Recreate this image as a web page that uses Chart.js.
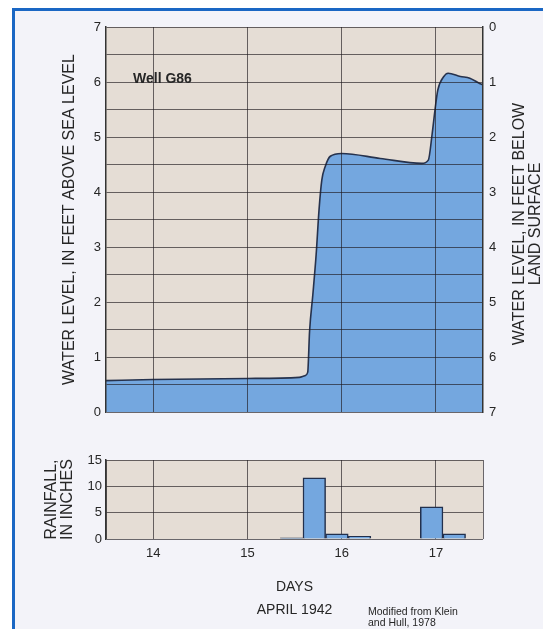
<!DOCTYPE html>
<html>
<head>
<meta charset="utf-8">
<script src="https://cdn.jsdelivr.net/npm/chart.js@4.4.1/dist/chart.umd.min.js"></script>
<style>
  html, body { margin: 0; padding: 0; background: #fff; }
  body { width: 543px; height: 629px; position: relative; overflow: hidden;
         font-family: 'Liberation Sans', Arial, sans-serif; color: #262626; }
  #frame { position: absolute; left: 12px; top: 8px; right: 0; bottom: 0;
           border-left: 3px solid #1a67c4; border-top: 3px solid #1a67c4; background: #f3f3f9; }
  #levelChart { position: absolute; left: 0; top: 0; }
  #rainChart { position: absolute; left: 0; top: 430px; }
  .txt { position: absolute; white-space: nowrap; }
  #well { left: 133px; top: 70px; font-size: 14px; font-weight: bold; }
  #rightTitle { left: 377px; top: 208px; width: 300px; height: 32px; font-size: 16px; line-height: 16px;
                text-align: center; transform: rotate(-90deg); }
  #credit { left: 368px; top: 606px; font-size: 10.5px; line-height: 11px; }
</style>
</head>
<body>
<div id="frame"></div>
<canvas id="levelChart" width="543" height="430"></canvas>
<canvas id="rainChart" width="543" height="199"></canvas>
<div class="txt" id="well">Well G86</div>
<div class="txt" id="rightTitle">WATER LEVEL, IN FEET BELOW<br>LAND SURFACE</div>
<div class="txt" id="credit">Modified from Klein<br>and Hull, 1978</div>
<script>
// water level, feet above sea level, by day of April 1942
const waterDays = [13.5, 14.0, 15.0, 15.55, 15.61, 15.64, 15.66, 15.695, 15.73, 15.76, 15.79, 15.825, 15.88, 16.0,
                   16.41, 16.85, 16.92, 16.96, 16.99, 17.02, 17.08, 17.13, 17.26, 17.36, 17.47, 17.5];
const waterLevel = [0.57, 0.59, 0.61, 0.63, 0.66, 0.72, 1.47, 2.14, 2.87, 3.67, 4.22, 4.46, 4.65, 4.70,
                    4.61, 4.52, 4.58, 5.05, 5.48, 5.85, 6.09, 6.16, 6.10, 6.07, 5.97, 5.95];

// rainfall bars (center of each 6-hour bin)
const rainDays = [15.47, 15.71, 15.95, 16.19, 16.955, 17.195];
const rainInches = [0.2, 11.6, 1.0, 0.5, 6.1, 1.0];

const dayTicks = [14, 15, 16, 17];
const levelTitle = 'WATER LEVEL, IN FEET ABOVE SEA LEVEL';
const rainTitle = ['RAINFALL,', 'IN INCHES'];
const dayTitle = ['DAYS', 'APRIL 1942'];

const beige = '#e5ddd5';
const gridCol = 'rgba(30,26,30,0.65)';
const frameCol = '#333';
const textCol = '#262626';
const tickFont = { family: "'Liberation Sans', Arial, sans-serif", size: 13 };
const titleFont = { family: "'Liberation Sans', Arial, sans-serif", size: 16 };

const plotBg = {
  id: 'plotBg',
  beforeDraw(chart) {
    const { ctx, chartArea: a } = chart;
    ctx.save();
    ctx.fillStyle = beige;
    ctx.fillRect(a.left, a.top, a.right - a.left, a.bottom - a.top);
    ctx.restore();
  }
};

const intLabel = v => Number.isInteger(v) ? v : '';

new Chart(document.getElementById('levelChart'), {
  type: 'line',
  data: {
    datasets: [{
      data: waterDays.map((d, i) => ({ x: d, y: waterLevel[i] })),
      borderColor: '#26324d',
      borderWidth: 1.6,
      backgroundColor: '#74a7df',
      fill: 'origin',
      pointRadius: 0,
      cubicInterpolationMode: 'monotone'
    }]
  },
  options: {
    responsive: false,
    animation: false,
    devicePixelRatio: 1,
    layout: { padding: { top: 27, bottom: 18, left: 0, right: 0 } },
    plugins: { legend: { display: false }, tooltip: { enabled: false } },
    scales: {
      x: {
        type: 'linear', min: 13.5, max: 17.5,
        afterBuildTicks: s => { s.ticks = dayTicks.map(v => ({ value: v })); },
        afterFit: s => { s.height = 0; },
        ticks: { display: false },
        grid: { color: gridCol, drawTicks: false, z: 1 },
        border: { display: false }
      },
      y: {
        min: 0, max: 7,
        afterFit: s => { s.width = 106; },
        ticks: { stepSize: 0.5, callback: intLabel, font: tickFont, color: textCol, padding: 5 },
        grid: { color: gridCol, drawTicks: false, z: 1 },
        border: { color: frameCol, width: 1.5, z: 2 },
        title: { display: true, text: levelTitle, font: titleFont, color: textCol, padding: { top: 60, bottom: 0 } }
      },
      y2: {
        position: 'right', min: 0, max: 7, reverse: true,
        afterFit: s => { s.width = 60; },
        ticks: { stepSize: 1, font: tickFont, color: textCol, padding: 6 },
        grid: { drawOnChartArea: false, drawTicks: false },
        border: { color: frameCol, width: 1.5, z: 2 }
      }
    }
  },
  plugins: [plotBg]
});

new Chart(document.getElementById('rainChart'), {
  type: 'bar',
  data: {
    datasets: [{
      data: rainDays.map((d, i) => ({ x: d, y: rainInches[i] })),
      backgroundColor: '#74a7df',
      borderColor: '#22304d',
      borderWidth: 1.5,
      barPercentage: 1,
      categoryPercentage: 1
    }]
  },
  options: {
    responsive: false,
    animation: false,
    devicePixelRatio: 1,
    layout: { padding: { top: 30, bottom: 0, left: 0, right: 60 } },
    plugins: { legend: { display: false }, tooltip: { enabled: false } },
    scales: {
      x: {
        type: 'linear', min: 13.5, max: 17.5, offset: false,
        afterBuildTicks: s => { s.ticks = [13.5, ...dayTicks, 17.5].map(v => ({ value: v })); },
        afterFit: s => { s.height = 90; },
        ticks: { callback: intLabel, font: tickFont, color: textCol, padding: 7, maxRotation: 0 },
        grid: { color: gridCol, drawTicks: false, offset: false },
        border: { display: false },
        title: { display: true, text: dayTitle, font: { family: "'Liberation Sans', Arial, sans-serif", size: 14, lineHeight: 23 / 14 },
                 color: textCol, padding: { top: 0, bottom: 7.5 } }
      },
      y: {
        min: 0, max: 15,
        afterFit: s => { s.width = 106; },
        ticks: { stepSize: 5, font: tickFont, color: textCol, padding: 4 },
        grid: { color: gridCol, drawTicks: false },
        border: { color: frameCol, width: 1.5 },
        title: { display: true, text: rainTitle, font: { family: "'Liberation Sans', Arial, sans-serif", size: 16, lineHeight: 1 },
                 color: textCol, padding: { top: 44, bottom: 0 } }
      }
    }
  },
  plugins: [plotBg]
});
</script>
</body>
</html>
